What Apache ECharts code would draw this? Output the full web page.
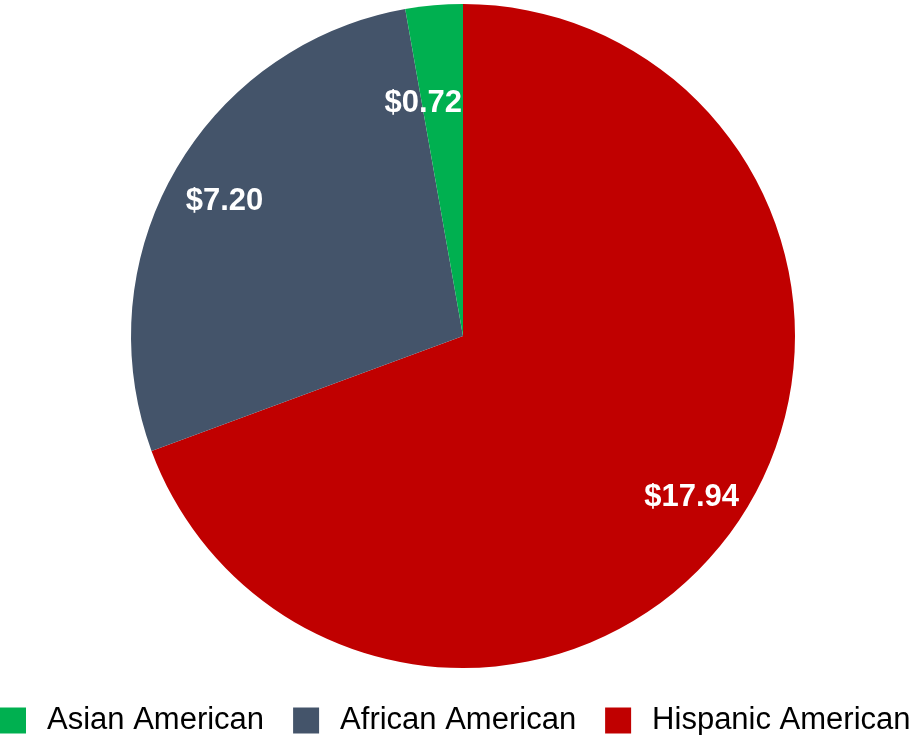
<!DOCTYPE html>
<html>
<head>
<meta charset="utf-8">
<script src="https://cdn.jsdelivr.net/npm/echarts@6/dist/echarts.min.js"></script>
<style>
  html, body { margin: 0; padding: 0; background: #ffffff; }
  #chart { width: 915px; height: 735px; }
</style>
</head>
<body>
<div id="chart"></div>
<script>
// Spending by group (in dollars), drawn clockwise from 12 o'clock
const groups = ['Hispanic American', 'African American', 'Asian American'];
const amounts = [17.94, 7.20, 0.72];
const legendOrder = ['Asian American', 'African American', 'Hispanic American'];
const colors = {
  'Hispanic American': '#C00000',
  'African American': '#44546A',
  'Asian American': '#00B050'
};
// Shift of each value label away from the default inside position
const labelShift = {
  'Hispanic American': [90, 65],
  'African American': [-92, -50],
  'Asian American': [-25, -64]
};

const chart = echarts.init(document.getElementById('chart'), null, { renderer: 'canvas' });

chart.setOption({
  animation: false,
  legend: {
    data: legendOrder,
    left: 0,
    top: 705,
    padding: 0,
    icon: 'rect',
    itemWidth: 26,
    itemHeight: 26,
    itemGap: 29,
    textStyle: {
      fontFamily: 'Liberation Sans, Arial, sans-serif',
      fontSize: 31,
      color: '#000000',
      padding: [0, 0, 0, 16]
    }
  },
  series: [{
    type: 'pie',
    center: [463, 336],
    radius: [0, 332],
    startAngle: 90,
    clockwise: true,
    avoidLabelOverlap: false,
    labelLine: { show: false },
    label: {
      show: true,
      position: 'inside',
      color: '#ffffff',
      fontFamily: 'Liberation Sans, Arial, sans-serif',
      fontWeight: 'bold',
      fontSize: 31,
      formatter: p => '$' + p.value.toFixed(2)
    },
    emphasis: { disabled: true },
    data: groups.map((g, i) => ({
      name: g,
      value: amounts[i],
      itemStyle: { color: colors[g] },
      label: { offset: labelShift[g] }
    }))
  }]
});
</script>
</body>
</html>
